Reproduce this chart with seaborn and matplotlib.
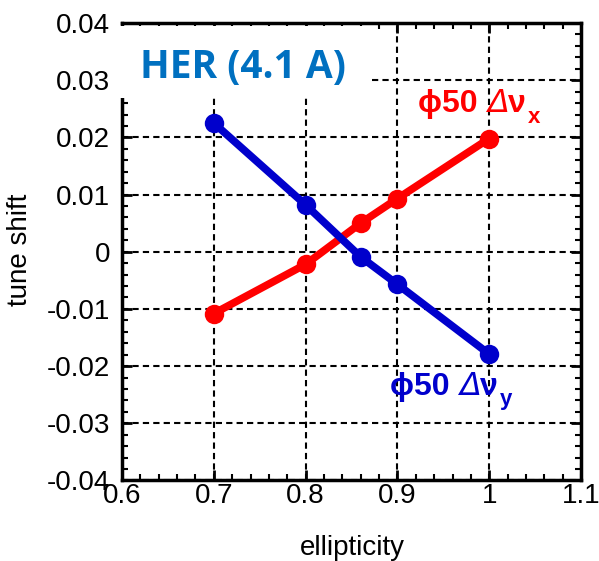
import numpy as np
import pandas as pd
import matplotlib
matplotlib.use("Agg")
import matplotlib.pyplot as plt
import seaborn as sns
from matplotlib.patches import Rectangle
from matplotlib.ticker import MultipleLocator, FixedLocator, FuncFormatter

# ---- data ----
ellipticity = [0.70, 0.80, 0.86, 0.90, 1.00]
dnu_x = [-0.0108, -0.0022, 0.0050, 0.0093, 0.0198]
dnu_y = [0.0225, 0.0082, -0.0009, -0.0057, -0.0179]
x_ticks = [0.6, 0.7, 0.8, 0.9, 1.0, 1.1]
y_ticks = [-0.04, -0.03, -0.02, -0.01, 0.0, 0.01, 0.02, 0.03, 0.04]
title_text = "HER (4.1 A)"
x_label = "ellipticity"
y_label = "tune shift"
red = "#FF0000"
blue = "#0000CC"

sns.set_theme(style="white")
plt.rcParams['font.family'] = ['Liberation Sans', 'DejaVu Sans']
plt.rcParams['axes.unicode_minus'] = False
plt.rcParams['text.color'] = 'black'
plt.rcParams['axes.labelcolor'] = 'black'

fig = plt.figure(figsize=(5.99, 5.61), dpi=100)
ax = fig.add_axes([0.2037, 0.1435, 0.7663, 0.8155])

df = pd.DataFrame({"e": ellipticity, "x": dnu_x, "y": dnu_y})
sns.lineplot(data=df, x="e", y="x", ax=ax, color=red, marker="o",
             markersize=14, linewidth=5.5, markeredgewidth=0, zorder=4)
sns.lineplot(data=df, x="e", y="y", ax=ax, color=blue, marker="o",
             markersize=14, linewidth=5.5, markeredgewidth=0, zorder=4)

ax.set_xlim(0.6, 1.1)
ax.set_ylim(-0.04, 0.04)
ax.xaxis.set_major_locator(FixedLocator(x_ticks))
ax.yaxis.set_major_locator(FixedLocator(y_ticks))
ax.xaxis.set_minor_locator(MultipleLocator(0.02))
ax.yaxis.set_minor_locator(MultipleLocator(0.002))
fmt = FuncFormatter(lambda v, p: "%g" % round(v, 4))
ax.xaxis.set_major_formatter(fmt)
ax.yaxis.set_major_formatter(fmt)

ax.tick_params(which="both", direction="in", top=True, right=True,
               bottom=True, left=True, color="black", labelcolor="black")
ax.tick_params(which="major", length=7, width=2, labelsize=20)
ax.tick_params(which="minor", length=4, width=1.5)
ax.tick_params(axis="y", which="major", pad=8.5)
ax.tick_params(axis="x", which="major", pad=1.5)

for s in ax.spines.values():
    s.set_color("black")
    s.set_linewidth(2.5)

ax.grid(True, which="major", color="black", linestyle=(0, (3, 2)), linewidth=1.5)
ax.set_axisbelow(True)

ax.set_xlabel(x_label, fontsize=20, color="black")
ax.set_ylabel(y_label, fontsize=20, color="black")
ax.xaxis.set_label_coords(0.501, -0.12)
ax.yaxis.set_label_coords(-0.194, 0.504)

# white box behind title
rect = Rectangle((-0.022, 0.836), 0.566, 0.157, transform=ax.transAxes,
                 facecolor="white", edgecolor="none", zorder=2.6, clip_on=False)
ax.add_patch(rect)
ax.text(0.039, 0.88, title_text, transform=ax.transAxes, color="#0070C0",
        fontsize=28, fontweight="bold", family=["Open Sans", "DejaVu Sans"],
        va="baseline", ha="left", zorder=5)


def series_label(x0, y0, sub, color):
    fam = ['Liberation Sans', 'DejaVu Sans']
    t1 = ax.text(x0, y0, "\u03d550 ", transform=ax.transAxes, color=color,
                 fontsize=23, fontweight="bold", family=fam,
                 va="baseline", ha="left", zorder=5)
    t2 = ax.annotate("\u0394", xy=(1, 0), xycoords=t1, color=color,
                     fontsize=23, style="italic", family=['DejaVu Sans'],
                     va="bottom", ha="left", zorder=5)
    t3 = ax.annotate("\u03bd", xy=(1, 0), xycoords=t2, color=color,
                     fontsize=23, fontweight="bold", family=fam,
                     va="bottom", ha="left", zorder=5)
    ax.annotate(sub, xy=(1, 0), xycoords=t3, xytext=(1.0, -6),
                textcoords="offset points", color=color,
                fontsize=16, fontweight="bold", family=fam,
                va="bottom", ha="left", zorder=5)


series_label(0.645, 0.805, "x", red)
series_label(0.584, 0.187, "y", blue)

fig.savefig("out.png", dpi=100)
